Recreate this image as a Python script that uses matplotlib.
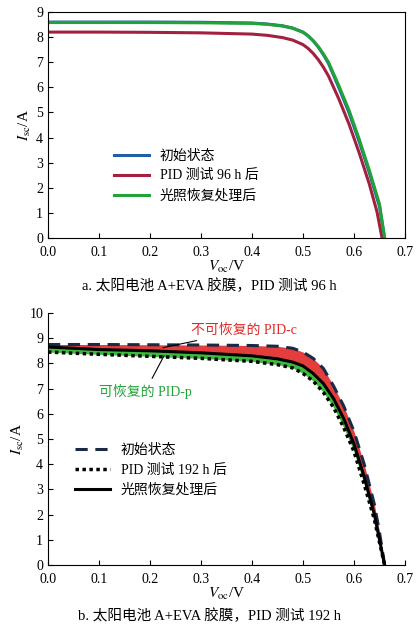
import matplotlib
matplotlib.use("Agg")
import matplotlib.pyplot as plt
import numpy as np

plt.rcParams['font.family'] = ['Liberation Serif', 'Noto Sans CJK SC', 'DejaVu Sans']
plt.rcParams['mathtext.fontset'] = 'stix'

# Panel a
va = [0, 0.1, 0.2, 0.3, 0.4, 0.43, 0.46, 0.48, 0.5, 0.51, 0.52, 0.53, 0.54, 0.55, 0.57, 0.59, 0.61, 0.63, 0.65, 0.66]
a_init = [8.6, 8.6, 8.6, 8.59, 8.56, 8.52, 8.45, 8.36, 8.2, 8.05, 7.85, 7.6, 7.3, 6.95, 6.0, 5.0, 3.85, 2.6, 1.25, 0.0]
a_rec = [8.58, 8.58, 8.58, 8.57, 8.55, 8.51, 8.44, 8.35, 8.19, 8.05, 7.86, 7.62, 7.33, 7.0, 6.08, 5.1, 3.95, 2.7, 1.35, 0.0]
va_pid = [0, 0.1, 0.2, 0.3, 0.4, 0.43, 0.46, 0.48, 0.5, 0.51, 0.52, 0.53, 0.54, 0.55, 0.57, 0.59, 0.61, 0.63, 0.645, 0.655]
a_pid = [8.2, 8.2, 8.19, 8.17, 8.12, 8.07, 7.98, 7.88, 7.7, 7.55, 7.35, 7.1, 6.8, 6.45, 5.55, 4.55, 3.4, 2.15, 1.05, 0.0]

# Panel b
vb = [0, 0.1, 0.2, 0.3, 0.4, 0.45, 0.48, 0.5, 0.52, 0.54, 0.56, 0.58, 0.6, 0.62, 0.64, 0.65, 0.66]
b_init = [8.75, 8.75, 8.74, 8.73, 8.71, 8.68, 8.6, 8.45, 8.2, 7.8, 7.1, 6.3, 5.3, 4.0, 2.4, 1.3, 0.0]
b_rec = [8.65, 8.55, 8.5, 8.42, 8.3, 8.18, 8.05, 7.9, 7.6, 7.2, 6.6, 5.8, 4.8, 3.5, 2.0, 1.0, 0.0]
b_pid = [8.45, 8.36, 8.28, 8.2, 8.08, 7.95, 7.82, 7.6, 7.3, 6.85, 6.25, 5.45, 4.5, 3.2, 1.8, 0.9, 0.0]

fig = plt.figure(figsize=(4.18, 6.33), dpi=100)
ax1 = fig.add_axes([48/418, 1-238/633, 357/418, 226/633])
ax2 = fig.add_axes([48/418, 1-565/633, 357/418, 252/633])

ax1.plot(va, a_init, color='#1f5fa8', lw=2.2, label='初始状态')
ax1.plot(va_pid, a_pid, color='#a3203f', lw=2.2, label='PID 测试 96 h 后')
ax1.plot(va, a_rec, color='#22a33a', lw=2.2, label='光照恢复处理后')
ax1.set_xlim(0, 0.7); ax1.set_ylim(0, 9)
ax1.set_xticks(np.arange(0, 0.71, 0.1)); ax1.set_yticks(range(10))
ax1.set_xticklabels([f'{t:.1f}' for t in np.arange(0, 0.71, 0.1)])
ax1.legend(loc='lower left', bbox_to_anchor=(0.15, 0.1), frameon=False, fontsize=10, handlelength=2.5)
ax1.set_xlabel('$V_{\\rm oc}$/V', fontsize=11, labelpad=0)
ax1.set_ylabel('$I_{\\rm sc}$/A', fontsize=11, labelpad=2)
fig.text(0.5, 1-290/633, 'a. 太阳电池 A+EVA 胶膜，PID 测试 96 h', ha='center', fontsize=10.5)

ax2.fill_between(vb, b_init, b_rec, color='#e02828', alpha=0.9, lw=0)
ax2.fill_between(vb, b_rec, b_pid, color='#3dbb3d', lw=0)
ax2.plot(vb, b_init, color='#1a2a44', lw=2.2, ls=(0, (4, 2.5)), label='初始状态')
ax2.plot(vb, b_pid, color='black', lw=2.5, ls=(0, (1, 1)), label='PID 测试 192 h 后')
ax2.plot(vb, b_rec, color='black', lw=2.2, label='光照恢复处理后')
ax2.set_xlim(0, 0.7); ax2.set_ylim(0, 10)
ax2.set_xticks(np.arange(0, 0.71, 0.1)); ax2.set_yticks(range(11))
ax2.set_xticklabels([f'{t:.1f}' for t in np.arange(0, 0.71, 0.1)])
ax2.spines['top'].set_visible(False); ax2.spines['right'].set_visible(False)
ax2.legend(loc='lower left', bbox_to_anchor=(0.04, 0.22), frameon=False, fontsize=10, handlelength=2.5)
ax2.set_xlabel('$V_{\\rm oc}$/V', fontsize=11, labelpad=0)
ax2.set_ylabel('$I_{\\rm sc}$/A', fontsize=11, labelpad=2)
ax2.annotate('不可恢复的 PID-c', xy=(0.22, 8.6), xytext=(0.28, 9.3), color='#e02828', fontsize=10,
             arrowprops=dict(arrowstyle='-', color='black', lw=0.8), va='center')
ax2.annotate('可恢复的 PID-p', xy=(0.23, 8.4), xytext=(0.1, 6.9), color='#22a33a', fontsize=10,
             arrowprops=dict(arrowstyle='-', color='black', lw=0.8), va='center')
fig.text(0.5, 1-620/633, 'b. 太阳电池 A+EVA 胶膜，PID 测试 192 h', ha='center', fontsize=10.5)

for ax in (ax1, ax2):
    ax.tick_params(direction='in', labelsize=10)
    ax.tick_params(axis='x', pad=6)
fig.savefig('out.png', dpi=100)
